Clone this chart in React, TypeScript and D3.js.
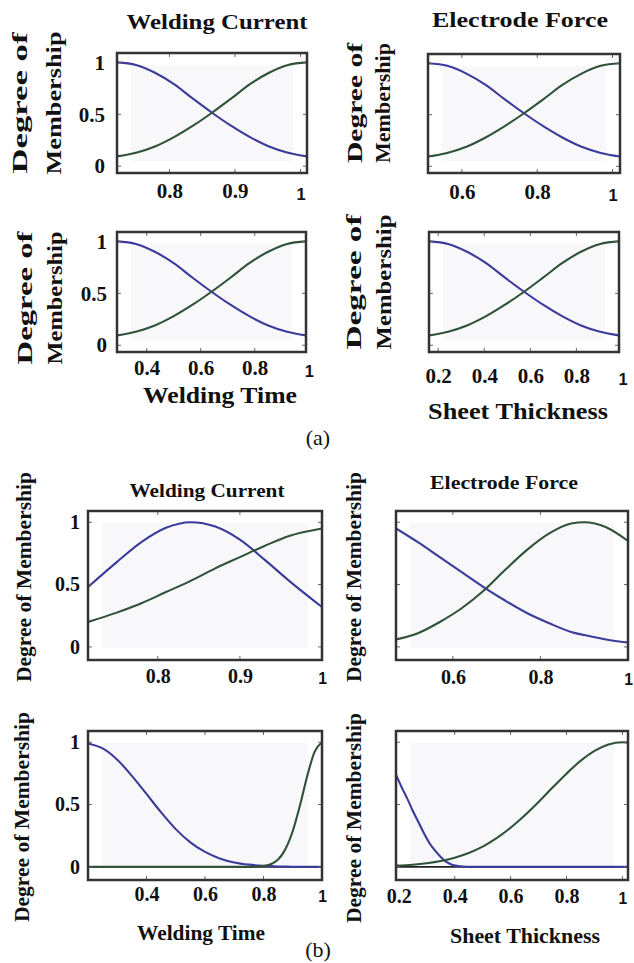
import React, { useRef, useEffect } from 'react';
import * as d3 from 'd3';

// ---- (a) membership functions (same shape in all four panels) ----
const aLow = [1.0, 0.975, 0.9, 0.79, 0.65, 0.515, 0.39, 0.28, 0.19, 0.13, 0.095];
const aHigh = [0.095, 0.13, 0.19, 0.28, 0.39, 0.515, 0.65, 0.79, 0.9, 0.975, 1.0];
const aCurrentX = [0.72, 0.749, 0.778, 0.807, 0.836, 0.865, 0.894, 0.923, 0.952, 0.981, 1.01];
const aForceX = [0.51, 0.561, 0.612, 0.663, 0.714, 0.765, 0.816, 0.867, 0.918, 0.969, 1.02];
const aTimeX = [0.29, 0.36, 0.43, 0.5, 0.57, 0.64, 0.71, 0.78, 0.85, 0.92, 0.99];
const aThickX = [0.16, 0.243, 0.325, 0.408, 0.49, 0.573, 0.655, 0.738, 0.82, 0.903, 0.985];

// ---- (b) membership functions ----
const bCurrentX = [0.715, 0.75, 0.78, 0.81, 0.84, 0.87, 0.9, 0.93, 0.96, 1.0];
const bCurrentLow = [0.48, 0.68, 0.84, 0.955, 1.0, 0.965, 0.86, 0.7, 0.53, 0.32];
const bCurrentHigh = [0.2, 0.275, 0.35, 0.44, 0.53, 0.63, 0.72, 0.81, 0.89, 0.95];

const bForceX = [0.47, 0.52, 0.57, 0.62, 0.67, 0.72, 0.77, 0.82, 0.87, 0.9, 0.95, 1.0];
const bForceLow = [0.95, 0.84, 0.72, 0.6, 0.48, 0.37, 0.27, 0.19, 0.12, 0.095, 0.06, 0.035];
const bForceHigh = [0.06, 0.11, 0.2, 0.31, 0.45, 0.62, 0.78, 0.91, 0.99, 1.0, 0.96, 0.85];

const bTimeX = [0.2, 0.25, 0.3, 0.35, 0.4, 0.45, 0.5, 0.55, 0.6, 0.65, 0.7, 0.75, 0.8, 0.85, 0.875, 0.9, 0.925, 0.95, 0.975, 1.0];
const bTimeLow = [0.99, 0.95, 0.86, 0.73, 0.585, 0.437, 0.303, 0.197, 0.12, 0.068, 0.036, 0.018, 0.008, 0.003, 0.002, 0.001, 0, 0, 0, 0];
const bTimeHigh = [0, 0, 0, 0, 0, 0, 0, 0, 0, 0, 0, 0, 0.007, 0.06, 0.143, 0.288, 0.496, 0.733, 0.925, 1.0];

const bThickLowX = [0.19, 0.21, 0.23, 0.25, 0.27, 0.29, 0.31, 0.33, 0.35, 0.37, 0.39, 0.42, 0.46, 0.6, 0.8, 1.02];
const bThickLow = [0.74, 0.64, 0.55, 0.45, 0.36, 0.27, 0.19, 0.13, 0.08, 0.04, 0.018, 0.005, 0, 0, 0, 0];
const bThickHighX = [0.19, 0.25, 0.3, 0.35, 0.4, 0.45, 0.5, 0.55, 0.6, 0.65, 0.7, 0.75, 0.8, 0.85, 0.9, 0.95, 1.0, 1.02];
const bThickHigh = [0.01, 0.017, 0.029, 0.047, 0.074, 0.112, 0.163, 0.231, 0.314, 0.412, 0.521, 0.636, 0.748, 0.85, 0.93, 0.982, 1.0, 0.997];

// tick values
const yTickValues = [0, 0.5, 1];
const currentTicks = [0.8, 0.9, 1];
const forceTicks = [0.6, 0.8, 1];
const timeTicks = [0.4, 0.6, 0.8, 1];
const thickTicks = [0.2, 0.4, 0.6, 0.8, 1];

const W = 634;
const H = 963;
const SERIF = 'Liberation Serif, Tinos, Times New Roman, Times, serif';
const SANS = 'Liberation Sans, Arimo, Arial, sans-serif';
const BLUE = '#3b3b9c';
const GREEN = '#2f5238';
const INK = '#111';

type Series = { x: number[]; y: number[]; color: string };
type Panel = {
  box: [number, number, number, number];
  xDomain: [number, number];
  yDomain: [number, number];
  xTicks: number[];
  yLabels: boolean;
  series: Series[];
  zeroLine?: boolean;
  xPad: number;
  yPad: number;
  fs: number;
};

const aY: [number, number] = [-0.065, 1.09];
const bY: [number, number] = [-0.105, 1.09];

const panels: Panel[] = [
  { box: [117, 53, 307, 173], xDomain: [0.72, 1.01], yDomain: aY, xTicks: currentTicks, yLabels: true, xPad: 10.5, yPad: 12, fs: 21,
    series: [{ x: aCurrentX, y: aLow, color: BLUE }, { x: aCurrentX, y: aHigh, color: GREEN }] },
  { box: [428, 54, 620, 173], xDomain: [0.51, 1.02], yDomain: aY, xTicks: forceTicks, yLabels: false, xPad: 11.5, yPad: 12, fs: 21,
    series: [{ x: aForceX, y: aLow, color: BLUE }, { x: aForceX, y: aHigh, color: GREEN }] },
  { box: [117, 232, 306, 352], xDomain: [0.29, 0.99], yDomain: aY, xTicks: timeTicks, yLabels: true, xPad: 8.5, yPad: 10, fs: 21,
    series: [{ x: aTimeX, y: aLow, color: BLUE }, { x: aTimeX, y: aHigh, color: GREEN }] },
  { box: [429, 232, 619, 352], xDomain: [0.16, 0.985], yDomain: aY, xTicks: thickTicks, yLabels: false, xPad: 16.5, yPad: 10, fs: 21,
    series: [{ x: aThickX, y: aLow, color: BLUE }, { x: aThickX, y: aHigh, color: GREEN }] },
  { box: [88, 511, 322, 660], xDomain: [0.715, 1.0], yDomain: bY, xTicks: currentTicks, yLabels: true, xPad: 8.5, yPad: 8, fs: 20,
    series: [{ x: bCurrentX, y: bCurrentLow, color: BLUE }, { x: bCurrentX, y: bCurrentHigh, color: GREEN }] },
  { box: [396, 511, 628, 660], xDomain: [0.47, 1.0], yDomain: bY, xTicks: forceTicks, yLabels: false, xPad: 9.5, yPad: 8, fs: 20,
    series: [{ x: bForceX, y: bForceLow, color: BLUE }, { x: bForceX, y: bForceHigh, color: GREEN }] },
  { box: [88, 731, 322, 880], xDomain: [0.2, 1.0], yDomain: bY, xTicks: timeTicks, yLabels: true, xPad: 6.5, yPad: 8, fs: 20, zeroLine: true,
    series: [{ x: bTimeX, y: bTimeLow, color: BLUE }, { x: bTimeX, y: bTimeHigh, color: GREEN }] },
  { box: [396, 731, 628, 880], xDomain: [0.19, 1.02], yDomain: bY, xTicks: thickTicks, yLabels: false, xPad: 8.5, yPad: 8, fs: 20, zeroLine: true,
    series: [{ x: bThickLowX, y: bThickLow, color: BLUE }, { x: bThickHighX, y: bThickHigh, color: GREEN }] },
];

type Label = { t: string; x: number; y: number; size: number; len?: number; rot?: boolean; bold?: boolean };
const labels: Label[] = [
  { t: 'Welding Current', x: 217, y: 29, size: 22, len: 181, bold: true },
  { t: 'Electrode Force', x: 520, y: 27, size: 22, len: 176, bold: true },
  { t: 'Degree of', x: 27, y: 103, size: 22, len: 141, rot: true, bold: true },
  { t: 'Membership', x: 61, y: 103, size: 22, len: 143, rot: true, bold: true },
  { t: 'Degree of', x: 362, y: 103, size: 22, len: 120, rot: true, bold: true },
  { t: 'Membership', x: 390, y: 103, size: 22, len: 120, rot: true, bold: true },
  { t: 'Degree of', x: 32, y: 298, size: 22, len: 133, rot: true, bold: true },
  { t: 'Membership', x: 62, y: 298, size: 22, len: 133, rot: true, bold: true },
  { t: 'Degree of', x: 361, y: 282, size: 22, len: 135, rot: true, bold: true },
  { t: 'Membership', x: 391, y: 282, size: 22, len: 135, rot: true, bold: true },
  { t: 'Welding Time', x: 220, y: 403, size: 23, len: 154, bold: true },
  { t: 'Sheet Thickness', x: 518, y: 419, size: 23, len: 180, bold: true },
  { t: '(a)', x: 318, y: 445, size: 22 },
  { t: 'Welding Current', x: 207, y: 497, size: 19, len: 155, bold: true },
  { t: 'Electrode Force', x: 504, y: 489, size: 19, len: 148, bold: true },
  { t: 'Degree of Membership', x: 31, y: 577, size: 21, len: 210, rot: true, bold: true },
  { t: 'Degree of Membership', x: 361, y: 577, size: 21, len: 210, rot: true, bold: true },
  { t: 'Degree of Membership', x: 29, y: 817, size: 21, len: 210, rot: true, bold: true },
  { t: 'Degree of Membership', x: 361, y: 818, size: 21, len: 210, rot: true, bold: true },
  { t: 'Welding Time', x: 201, y: 940, size: 20, len: 128, bold: true },
  { t: 'Sheet Thickness', x: 525, y: 943, size: 20, len: 150, bold: true },
  { t: '(b)', x: 318, y: 957, size: 22 },
];

function drawPanel(svg: any, p: Panel, i: number) {
  const [x0, y0, x1, y1] = p.box;
  const x = d3.scaleLinear().domain(p.xDomain).range([x0, x1]);
  const y = d3.scaleLinear().domain(p.yDomain).range([y1, y0]);
  const g = svg.append('g');

  // faint scan shading inside the frame
  g.append('rect')
    .attr('x', x0 + 14).attr('y', y0 + 12)
    .attr('width', x1 - x0 - 28).attr('height', y1 - y0 - 24)
    .attr('fill', '#f8f8fa');

  const clipId = `clip-${i}`;
  g.append('clipPath').attr('id', clipId)
    .append('rect').attr('x', x0).attr('y', y0).attr('width', x1 - x0).attr('height', y1 - y0);

  if (p.zeroLine) {
    g.append('line')
      .attr('x1', x0).attr('x2', x1)
      .attr('y1', y(0)).attr('y2', y(0))
      .attr('stroke', '#222').attr('stroke-width', 1.8);
  }

  const line = d3.line<[number, number]>()
    .x(d => x(d[0]))
    .y(d => y(d[1]))
    .curve(d3.curveMonotoneX);

  p.series.forEach(s => {
    g.append('path')
      .datum(d3.zip(s.x, s.y) as [number, number][])
      .attr('fill', 'none')
      .attr('stroke', s.color)
      .attr('stroke-width', 2.1)
      .attr('clip-path', `url(#${clipId})`)
      .attr('d', line);
  });

  // small inward ticks like the MATLAB frame
  const tk = g.append('g').attr('stroke', '#666').attr('stroke-width', 1);
  p.xTicks.filter(v => x(v) > x0 + 3 && x(v) < x1 - 3).forEach(v => {
    tk.append('line').attr('x1', x(v)).attr('x2', x(v)).attr('y1', y1).attr('y2', y1 - 4);
    tk.append('line').attr('x1', x(v)).attr('x2', x(v)).attr('y1', y0).attr('y2', y0 + 4);
  });
  yTickValues.forEach(v => {
    tk.append('line').attr('x1', x0).attr('x2', x0 + 4).attr('y1', y(v)).attr('y2', y(v));
    tk.append('line').attr('x1', x1).attr('x2', x1 - 4).attr('y1', y(v)).attr('y2', y(v));
  });

  // frame
  g.append('rect')
    .attr('x', x0).attr('y', y0)
    .attr('width', x1 - x0).attr('height', y1 - y0)
    .attr('fill', 'none')
    .attr('stroke', '#333')
    .attr('stroke-width', 2.5);

  // x axis labels
  const gx = g.append('g')
    .attr('transform', `translate(0,${y1})`)
    .call(d3.axisBottom(x).tickValues(p.xTicks).tickSize(0).tickPadding(p.xPad).tickFormat((d: any) => String(d)));
  gx.select('.domain').remove();
  gx.selectAll('text')
    .style('font-family', SERIF)
    .style('font-weight', 'bold')
    .style('font-size', `${p.fs}px`)
    .attr('fill', INK);
  gx.selectAll('text')
    .filter((d: any) => d === 1)
    .style('font-family', SANS)
    .style('font-size', `${p.fs * 0.78}px`)
    .attr('dy', '1.0em');

  if (p.yLabels) {
    const gy = g.append('g')
      .attr('transform', `translate(${x0},0)`)
      .call(d3.axisLeft(y).tickValues(yTickValues).tickSize(0).tickPadding(p.yPad).tickFormat((d: any) => String(d)));
    gy.select('.domain').remove();
    gy.selectAll('text')
      .style('font-family', SERIF)
      .style('font-weight', 'bold')
      .style('font-size', `${p.fs}px`)
      .attr('fill', INK);
  }
}

const App = () => {
  const svgRef = useRef<SVGSVGElement>(null);

  useEffect(() => {
    const svg = d3.select(svgRef.current);
    svg.selectAll('*').remove();

    svg.append('rect').attr('width', W).attr('height', H).attr('fill', '#fff');

    panels.forEach((p, i) => drawPanel(svg, p, i));

    labels.forEach(l => {
      const t = svg.append('text')
        .attr('x', l.x)
        .attr('y', l.y)
        .attr('text-anchor', 'middle')
        .style('font-family', SERIF)
        .style('font-weight', l.bold ? 'bold' : 'normal')
        .style('font-size', `${l.size}px`)
        .attr('fill', INK)
        .text(l.t);
      if (l.len) t.attr('textLength', l.len).attr('lengthAdjust', 'spacingAndGlyphs');
      if (l.rot) t.attr('transform', `rotate(-90,${l.x},${l.y})`);
    });
  }, []);

  return (
    <svg
      ref={svgRef}
      width={W}
      height={H}
      style={{ position: 'absolute', left: 0, top: 0, display: 'block' }}
    />
  );
};

export default App;
